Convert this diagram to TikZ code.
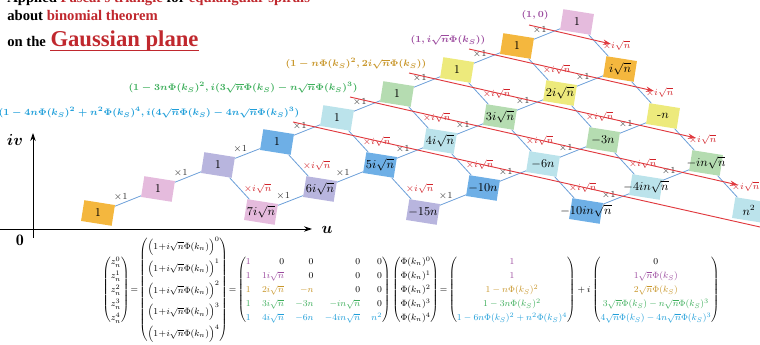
\documentclass[tikz,border=0pt]{standalone}
\usepackage{mathtools}
\usepackage{graphicx}
\usepackage{fontspec}
\newfontfamily\titlefont{Liberation Serif}
\usetikzlibrary{arrows.meta,calc,positioning}
\definecolor{titlered}{HTML}{C0282E}
\definecolor{labelred}{HTML}{D2232A}
\definecolor{linered}{HTML}{E0393E}
\definecolor{edgeblue}{HTML}{6A9ED8}
\definecolor{boxpink}{HTML}{E5BBDD}
\definecolor{boxorange}{HTML}{F4B73E}
\definecolor{boxyellow}{HTML}{EDEA7C}
\definecolor{boxgreen}{HTML}{B5DCB1}
\definecolor{boxcyan}{HTML}{BBE3EB}
\definecolor{boxblue}{HTML}{6EAFE6}
\definecolor{boxlav}{HTML}{B8B5DE}
\definecolor{eqpurple}{HTML}{9B4A9E}
\definecolor{eqgold}{HTML}{C8962A}
\definecolor{eqgreen}{HTML}{3DAE5B}
\definecolor{eqblue}{HTML}{1F9ED9}
\newcommand{\rowP}[1]{\textcolor{eqpurple}{#1}}
\newcommand{\rowO}[1]{\textcolor{eqgold}{#1}}
\newcommand{\rowG}[1]{\textcolor{eqgreen}{#1}}
\newcommand{\rowB}[1]{\textcolor{eqblue}{#1}}
\newcommand{\zpow}[1]{\Bigl(1\!+\!i\sqrt{n}\Phi(k_n)\Bigr)^{#1}}
\tikzset{
  gaussfig/.style={x=0.75pt,y=-0.75pt,>={Stealth[length=6pt,width=4pt]}},
  cellbox/.style={minimum width=23.25pt,minimum height=15.75pt,inner sep=0pt,
    rotate=-9},
  celltext/.style={font=\small,inner sep=0pt},
  link/.style={draw=edgeblue,line width=0.6pt},
  onelabel/.style={midway,above left,inner sep=0pt,font=\scriptsize,
    text=black!80},
  ilabel/.style={midway,right,inner sep=3pt,font=\scriptsize,text=labelred},
  rowline/.style={draw=linered,line width=0.7pt},
  axis/.style={line width=0.7pt,->},
  titleline/.style={anchor=base west,inner sep=0pt,
    font=\titlefont\bfseries\fontsize{11}{13}\selectfont},
  rowformula/.style={inner sep=0pt,font=\boldmath\fontsize{7.5}{9}\selectfont},
}

\begin{document}
\begin{tikzpicture}[gaussfig]
  \useasboundingbox (0,0) rectangle (760,345);

  \node[titleline] (title1) at (7,3) {Applied {\color{titlered}Pascal's
    triangle} for {\color{titlered}equiangular spirals}};
  \node[titleline] (title2) at (7,20.5) {about {\color{titlered}binomial
    theorem}};
  \node[titleline] (title3) at (7,46.5) {on the};
  \node[titleline,right=3pt of title3.base east,anchor=base west,
    text=titlered,font=\titlefont\bfseries\fontsize{17}{20}\selectfont]
    (gauss) {Gaussian plane};
  \draw[titlered,line width=1.1pt] ([yshift=-3pt]gauss.base west)
    -- ([yshift=-3pt]gauss.base east);

  \coordinate (ustart) at (0,229);
  \coordinate (uend) at (312,229);
  \coordinate (vstart) at (33,238);
  \coordinate (vend) at (33,133);
  \draw[axis] (ustart) -- (uend);
  \draw[axis] (vstart) -- (vend);
  \node[font=\large] (ulabel) at (327,230) {$\boldsymbol{u}$};
  \node[font=\large] (vlabel) at (15,140) {$\boldsymbol{iv}$};
  \node[font=\large] (zero) at (20,240) {$\mathbf{0}$};

  \foreach \nm/\px/\py/\col/\txt in {
      00/577/22/boxpink/1, 10/517/46/boxorange/1, 20/457/70/boxyellow/1,
      30/397/94/boxgreen/1, 40/337/118/boxcyan/1, 50/277/142/boxblue/1,
      60/218/165/boxlav/1, 70/158/189/boxpink/1, 80/98/213/boxorange/1,
      01/620/69/boxorange/i\sqrt{n}, 11/560/93/boxyellow/2i\sqrt{n},
      21/500/117/boxgreen/3i\sqrt{n}, 31/440/141/boxcyan/4i\sqrt{n},
      41/380/165/boxblue/5i\sqrt{n}, 51/320/189/boxlav/6i\sqrt{n},
      61/261/212/boxpink/7i\sqrt{n},
      02/663/116/boxyellow/\mbox{-}n, 12/603/140/boxgreen/-3n,
      22/543/164/boxcyan/-6n, 32/483/188/boxblue/-10n,
      42/423/212/boxlav/-15n,
      03/706/163/boxgreen/-in\sqrt{n}, 13/646/187/boxcyan/-4in\sqrt{n},
      23/586/211/boxblue/-10in\sqrt{n},
      04/749/210/boxcyan/n^2} {
    \node[cellbox,fill=\col] (c\nm) at (\px,\py) {};
    \node[celltext] (t\nm) at (c\nm) {$\txt$};
  }

  \foreach \p/\q in {00/10,10/20,20/30,30/40,40/50,50/60,60/70,70/80,
      01/11,11/21,21/31,31/41,41/51,51/61,02/12,12/22,22/32,32/42,
      03/13,13/23}
    \draw[link] (c\p) -- node[onelabel] (o\p) {$\times 1$} (c\q);
  \foreach \p/\q in {00/01,10/11,20/21,30/31,40/41,50/51,60/61,
      01/02,11/12,21/22,31/32,41/42,02/03,12/13,22/23,03/04}
    \draw[link] (c\p) -- node[ilabel] (i\p) {$\times i\sqrt{n}$} (c\q);

  \coordinate (r0s) at (529,25);  \coordinate (r0e) at (611,44);
  \coordinate (r1s) at (469,49);  \coordinate (r1e) at (654,91);
  \coordinate (r2s) at (409,73);  \coordinate (r2e) at (696,138);
  \coordinate (r3s) at (350,97);  \coordinate (r3e) at (738,185);
  \coordinate (r4s) at (293,122); \coordinate (r4e) at (760,227);
  \foreach \k in {0,1,2,3}
    \draw[rowline,->] (r\k s) -- (r\k e);
  \draw[rowline] (r4s) -- (r4e);

  \node[rowformula,text=eqpurple] (f0) at (535,15) {$(1,0)$};
  \node[rowformula,text=eqpurple] (f1) at (448,40)
    {$(1,i\sqrt{n}\Phi(k_S))$};
  \node[rowformula,text=eqgold] (f2) at (356,64)
    {$(1-n\Phi(k_S)^2,2i\sqrt{n}\Phi(k_S))$};
  \node[rowformula,text=eqgreen] (f3) at (243,88)
    {$(1-3n\Phi(k_S)^2,i(3\sqrt{n}\Phi(k_S)-n\sqrt{n}\Phi(k_S)^3)$};
  \node[rowformula,text=eqblue] (f4) at (149,113)
    {$(1-4n\Phi(k_S)^2+n^2\Phi(k_S)^4,i(4\sqrt{n}\Phi(k_S)
      -4n\sqrt{n}\Phi(k_S)^3)$};

  \node[inner sep=0pt] (eq) at (411,290) {\resizebox{463pt}{!}{%
    \footnotesize\renewcommand{\arraystretch}{1.3}$
    \begin{pmatrix} z_n^0\\ z_n^1\\ z_n^2\\ z_n^3\\ z_n^4 \end{pmatrix}
    \!=\!\begin{pmatrix}
      \zpow{0}\\[5pt] \zpow{1}\\[5pt] \zpow{2}\\[5pt] \zpow{3}\\[5pt]
      \zpow{4}
    \end{pmatrix}
    \!=\!\begin{pmatrix*}[r]
      \rowP{1} & 0 & 0 & 0 & 0\\
      \rowP{1} & \rowP{1i\sqrt{n}} & 0 & 0 & 0\\
      \rowO{1} & \rowO{2i\sqrt{n}} & \rowO{-n} & 0 & 0\\
      \rowG{1} & \rowG{3i\sqrt{n}} & \rowG{-3n} & \rowG{-in\sqrt{n}} & 0\\
      \rowB{1} & \rowB{4i\sqrt{n}} & \rowB{-6n} & \rowB{-4in\sqrt{n}}
        & \rowB{n^2}
    \end{pmatrix*}
    \begin{pmatrix} \Phi(k_n)^0\\ \Phi(k_n)^1\\ \Phi(k_n)^2\\ \Phi(k_n)^3\\
      \Phi(k_n)^4 \end{pmatrix}
    \!=\!\begin{pmatrix}
      \rowP{1}\\ \rowP{1}\\ \rowO{1-n\Phi(k_S)^2}\\
      \rowG{1-3n\Phi(k_S)^2}\\ \rowB{1-6n\Phi(k_S)^2+n^2\Phi(k_S)^4}
    \end{pmatrix}
    +i\begin{pmatrix}
      0\\ \rowP{1\sqrt{n}\Phi(k_S)}\\ \rowO{2\sqrt{n}\Phi(k_S)}\\
      \rowG{3\sqrt{n}\Phi(k_S)-n\sqrt{n}\Phi(k_S)^3}\\
      \rowB{4\sqrt{n}\Phi(k_S)-4n\sqrt{n}\Phi(k_S)^3}
    \end{pmatrix}$}};
\end{tikzpicture}
\end{document}
